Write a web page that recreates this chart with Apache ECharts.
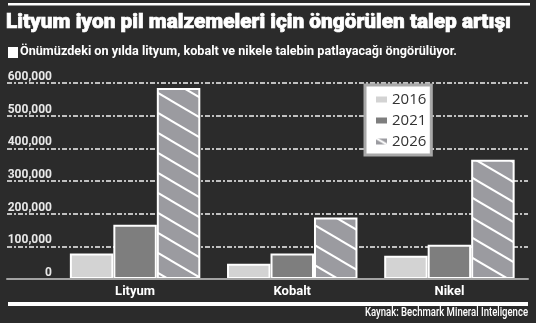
<!DOCTYPE html>
<html>
<head>
<meta charset="utf-8">
<script src="https://cdn.jsdelivr.net/npm/echarts@6.0.0/dist/echarts.min.js"></script>
<style>
  html, body { margin: 0; padding: 0; background: #2b2b2b; }
  #chart { width: 536px; height: 323px; }
</style>
</head>
<body>
<div id="chart"></div>
<script>
// Demand forecast for lithium-ion battery materials (tonnes)
const categories = ['Lityum', 'Kobalt', 'Nikel'];
const years = ['2016', '2021', '2026'];
const demand2016 = [78000, 47000, 71000];
const demand2021 = [166000, 78000, 105000];
const demand2026 = [585000, 188000, 365000];
const yTicks = [0, 100000, 200000, 300000, 400000, 500000, 600000];

const titleText = 'Lityum iyon pil malzemeleri için öngörülen talep artışı';
const subtitleText = 'Önümüzdeki on yılda lityum, kobalt ve nikele talebin patlayacağı öngörülüyor.';
const sourceText = 'Kaynak: Bechmark Mineral Inteligence';

const SANS = 'Roboto, "Noto Sans", sans-serif';
const BG = '#2b2b2b';

// Horizontal squeeze so a headline fits its column width
const measureCtx = document.createElement('canvas').getContext('2d');
function squeeze(text, font, width) {
  measureCtx.font = font;
  const w = measureCtx.measureText(text).width;
  return Math.min(1, width / w);
}

// Diagonal white hatching on grey for the 2026 forecast bars
function hatchPattern() {
  const c = document.createElement('canvas');
  const w = 34, h = 20;
  c.width = w; c.height = h;
  const ctx = c.getContext('2d');
  ctx.fillStyle = '#9b9ba0';
  ctx.fillRect(0, 0, w, h);
  ctx.strokeStyle = '#ffffff';
  ctx.lineWidth = 2;
  for (const off of [-h, 0, h]) {
    ctx.beginPath();
    ctx.moveTo(-2, off - 2 * h / w);
    ctx.lineTo(w + 2, off + h + 2 * h / w);
    ctx.stroke();
  }
  return { image: c, repeat: 'repeat' };
}

const chart = echarts.init(document.getElementById('chart'), null, { renderer: 'canvas' });

const yMax = yTicks[yTicks.length - 1];
const yStep = yTicks[1] - yTicks[0];

const barStyle = (color) => ({ color: color, borderColor: '#ffffff', borderWidth: 2 });

const titleFont = '900 21px ' + SANS;
const subFont = 'bold 13px ' + SANS;
const srcFont = '500 12px ' + SANS;

chart.setOption({
  backgroundColor: BG,
  animation: false,
  grid: [
    { left: 56.5, right: 8, top: 83, bottom: 44 },
    { left: 7, right: 8, top: 83, bottom: 44 }
  ],
  xAxis: [
    {
      type: 'category', gridIndex: 0, data: categories,
      axisLine: { show: false }, axisTick: { show: false },
      axisLabel: { color: '#ffffff', fontFamily: SANS, fontWeight: 'bold', fontSize: 13, margin: 6 }
    },
    {
      type: 'value', gridIndex: 1, min: 0, max: 1, z: 5,
      axisLine: { show: true, lineStyle: { color: '#a3a3a3', width: 2 } },
      axisTick: { show: false }, axisLabel: { show: false }, splitLine: { show: false }
    }
  ],
  yAxis: [
    {
      type: 'value', gridIndex: 0, min: 0, max: yMax, interval: yStep,
      axisLine: { show: false }, axisTick: { show: false }, splitLine: { show: false },
      axisLabel: {
        color: '#e8e8e8', fontFamily: SANS, fontWeight: 'bold', fontSize: 12,
        margin: 4.5, verticalAlign: 'bottom', lineHeight: 12,
        formatter: (v) => v.toLocaleString('en-US')
      }
    },
    {
      type: 'value', gridIndex: 1, min: 0, max: yMax, interval: yStep,
      axisLine: { show: false }, axisTick: { show: false }, axisLabel: { show: false },
      splitLine: { show: true, lineStyle: { color: '#f2f2f2', width: 1.7, type: [5, 2, 2, 2] } }
    }
  ],
  legend: {
    data: years,
    orient: 'vertical',
    left: 365, top: 85,
    backgroundColor: '#ffffff',
    borderColor: '#a8a8a8', borderWidth: 3,
    padding: [7, 5, 6, 9],
    itemGap: 6, itemWidth: 13, itemHeight: 8,
    icon: 'rect',
    textStyle: { color: '#333333', fontFamily: '"Open Sans", "Noto Sans", sans-serif', fontSize: 15, lineHeight: 15, padding: [0, 0, 0, -1] }
  },
  series: [
    { name: years[0], type: 'bar', xAxisIndex: 0, yAxisIndex: 0, data: demand2016,
      barGap: '0%', barCategoryGap: '17%', itemStyle: barStyle('#d3d3d3') },
    { name: years[1], type: 'bar', xAxisIndex: 0, yAxisIndex: 0, data: demand2021,
      barGap: '0%', barCategoryGap: '17%', itemStyle: barStyle('#7e7e7e') },
    { name: years[2], type: 'bar', xAxisIndex: 0, yAxisIndex: 0, data: demand2026,
      barGap: '0%', barCategoryGap: '17%', itemStyle: barStyle(hatchPattern()) }
  ],
  graphic: [
    { type: 'rect', shape: { x: 8, y: 3, width: 522, height: 2.5 }, style: { fill: '#ffffff' } },
    { type: 'text', x: 6, y: 12, scaleX: squeeze(titleText, titleFont, 505),
      style: { text: titleText, fill: '#ffffff', stroke: '#ffffff', lineWidth: 0.7,
               font: titleFont, textVerticalAlign: 'top' } },
    { type: 'rect', shape: { x: 8, y: 47, width: 10, height: 11 }, style: { fill: '#ffffff' } },
    { type: 'text', x: 20, y: 45.5, scaleX: squeeze(subtitleText, subFont, 437),
      style: { text: subtitleText, fill: '#ffffff', font: subFont, textVerticalAlign: 'top' } },
    { type: 'rect', shape: { x: 8, y: 302, width: 520, height: 4 }, style: { fill: '#ffffff' } },
    { type: 'text', x: 528, y: 313, scaleX: squeeze(sourceText, srcFont, 163),
      style: { text: sourceText, fill: '#ffffff', font: srcFont, textAlign: 'right', textVerticalAlign: 'middle' } }
  ]
});
</script>
</body>
</html>
